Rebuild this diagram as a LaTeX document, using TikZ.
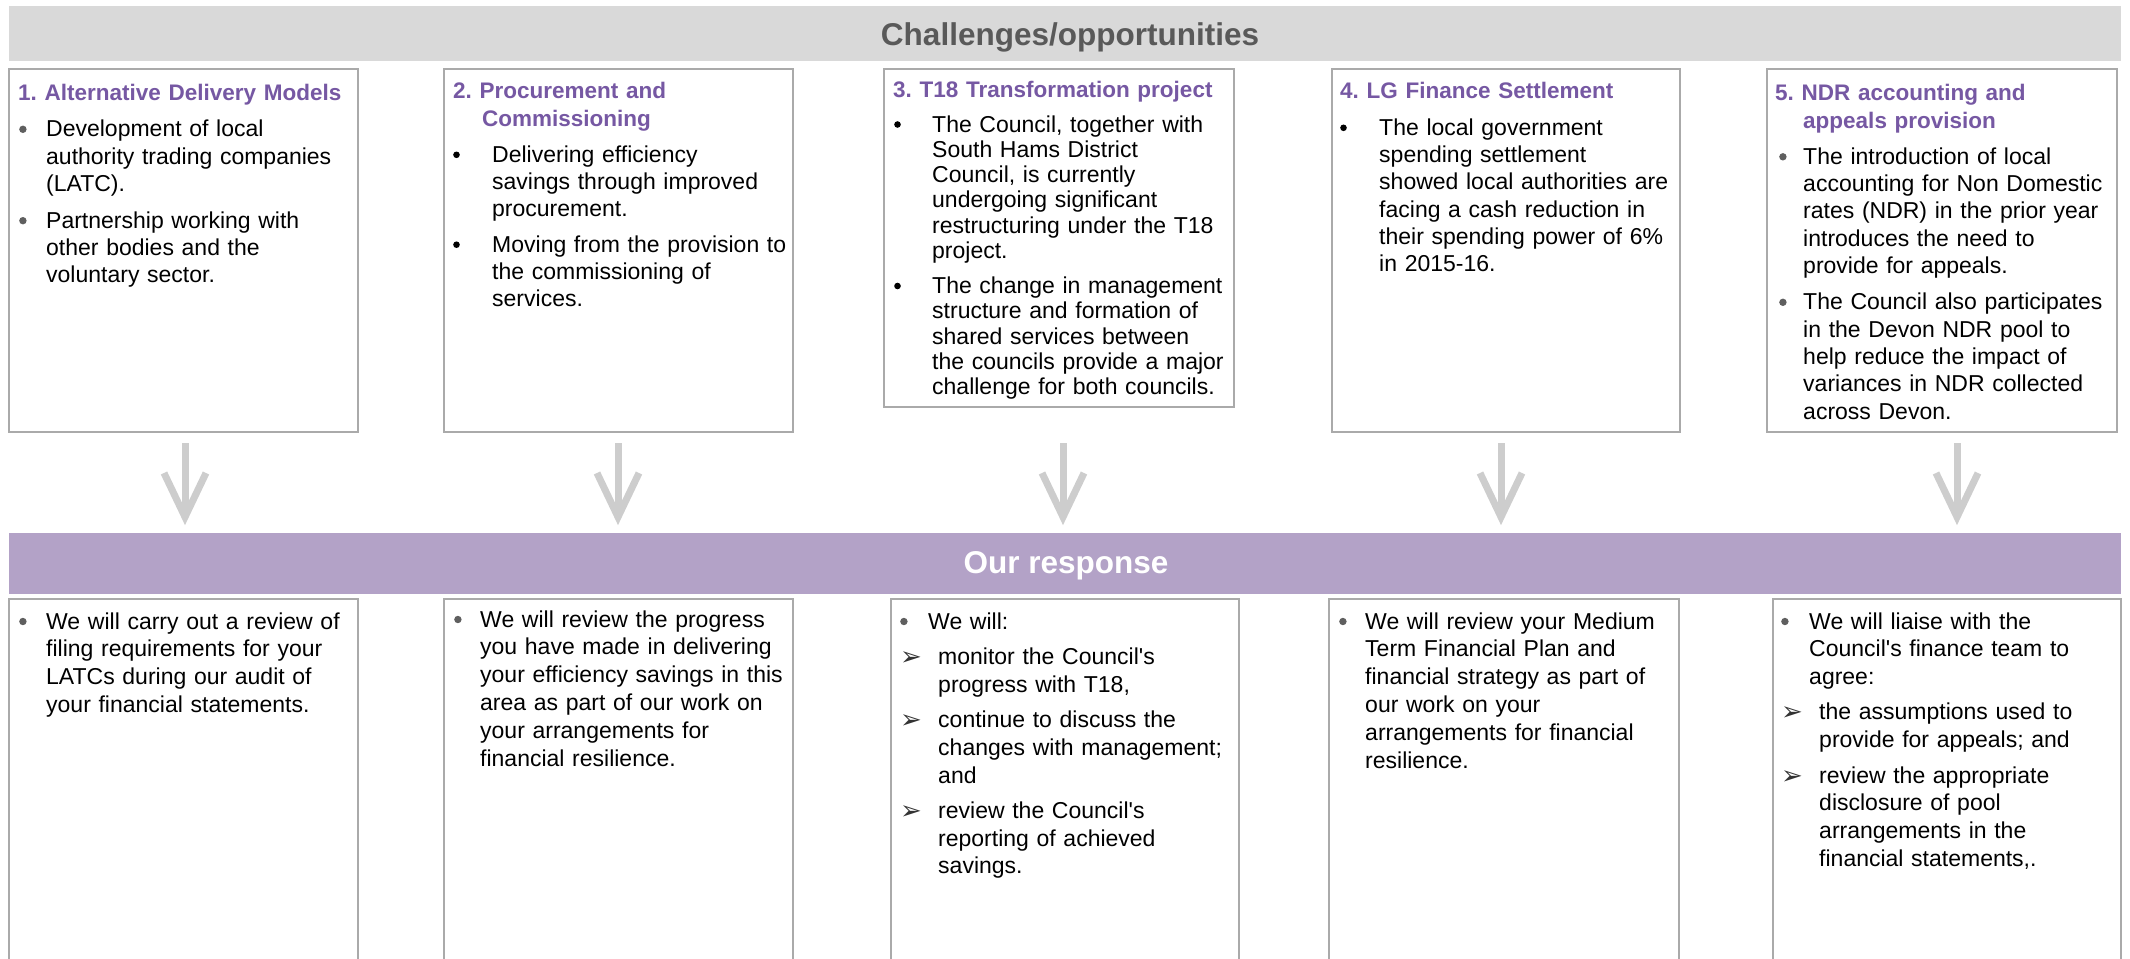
\documentclass[tikz,border=0pt]{standalone}
\usepackage{fontspec}
\setmainfont{Liberation Sans}
\newfontfamily\djv{DejaVu Sans}
\usetikzlibrary{calc}
\definecolor{bargray}{RGB}{217,217,217}
\definecolor{titlegray}{RGB}{89,89,89}
\definecolor{barpurple}{RGB}{179,162,199}
\definecolor{hpurple}{RGB}{118,88,163}
\definecolor{boxgray}{RGB}{170,170,170}
\definecolor{bulgray}{RGB}{95,95,95}
\definecolor{arrgray}{RGB}{205,205,205}
\frenchspacing
\newcommand\nl{\hfil\break}
\newcommand\hd[2][0pt]{{\hangindent=#1\hangafter=1\noindent\color{hpurple}\bfseries\fontsize{22.5}{28}\selectfont #2\par}}
\newcommand\bpt[4]{\hangindent=#1\hangafter=1\noindent\makebox[#1][l]{\hspace*{#2}#3}#4\par}
\newcommand\gb{\tikz[baseline=0pt]\fill[bulgray] (3.7pt,7.5pt) circle[radius=3.7pt];}
\newcommand\kb{\tikz[baseline=0pt]\fill[black] (3.3pt,7.5pt) circle[radius=3.3pt];}
\newcommand\ab{{\djv\fontsize{26}{26}\selectfont\color{black!80}\raisebox{-1pt}{➢}}}
\newcommand\q{\textquotesingle}
\tikzset{
 tbox/.style={draw=boxgray, line width=2pt, fill=white, inner sep=0pt, outer sep=0pt, anchor=north west},
 txt/.style={anchor=base west, inner sep=0pt, text width=420pt, align=left, font=\fontsize{23}{27.3}\selectfont},
 txtb/.style={txt, font=\fontsize{23}{27.8}\selectfont},
 bar/.style={inner sep=0pt, outer sep=0pt, anchor=north west, minimum width=2112pt, minimum height=55pt},
 bartitle/.style={anchor=base, inner sep=0pt, font=\bfseries\fontsize{31.5}{36}\selectfont},
 shaft/.style={draw=arrgray, line width=7pt},
 ahead/.style={draw=arrgray, line width=7pt, line join=miter}
}
\begin{document}
\begin{tikzpicture}[x=1pt,y=-1pt]
\useasboundingbox (0,0) rectangle (2130,958);
\clip (0,0) rectangle (2130,958);
% bars
\node[bar, fill=bargray] (topbar) at (9,6) {};
\node[bartitle, text=titlegray] (toptitle) at (1070,46) {Challenges/opportunities};
\node[bar, fill=barpurple, minimum height=61pt] (midbar) at (9,533) {};
\node[bartitle, text=white] (midtitle) at (1066,573) {Our response};
% top boxes
\node[tbox, minimum width=349pt, minimum height=362pt] (c1) at (9,69.5) {};
\node[tbox, minimum width=349pt, minimum height=362pt] (c2) at (444,69.5) {};
\node[tbox, minimum width=350pt, minimum height=337pt] (c3) at (884,69.5) {};
\node[tbox, minimum width=348pt, minimum height=362pt] (c4) at (1332,69.5) {};
\node[tbox, minimum width=350pt, minimum height=362pt] (c5) at (1767,69.5) {};
% top texts
\node[txt] (t1) at (18,100) {\setlength{\parskip}{9.5pt}%
\hd{1. Alternative Delivery Models}
\bpt{28pt}{1pt}{\gb}{Development of local\nl authority trading companies\nl (LATC).}
\bpt{28pt}{1pt}{\gb}{Partnership working with\nl other bodies and the\nl voluntary sector.}};
\node[txt] (t2) at (453,99) {\setlength{\parskip}{8pt}%
\hd[29pt]{2. Procurement and\nl Commissioning}
\bpt{39pt}{0pt}{\kb}{Delivering efficiency\nl savings through improved\nl procurement.}
\bpt{39pt}{0pt}{\kb}{Moving from the provision to\nl the commissioning of\nl services.}};
\node[txt, font=\fontsize{23}{25.3}\selectfont] (t3) at (893,97) {\setlength{\parskip}{9.7pt}%
\hd{3. T18 Transformation project}
\bpt{39pt}{1pt}{\kb}{The Council, together with\nl South Hams District\nl Council, is currently\nl undergoing significant\nl restructuring under the T18\nl project.}
\bpt{39pt}{1pt}{\kb}{The change in management\nl structure and formation of\nl shared services between\nl the councils provide a major\nl challenge for both councils.}};
\node[txt] (t4) at (1340,99) {\setlength{\parskip}{9pt}%
\hd{4. LG Finance Settlement}
\bpt{39pt}{0pt}{\kb}{The local government\nl spending settlement\nl showed local authorities are\nl facing a cash reduction in\nl their spending power of 6\%\nl in 2015-16.}};
\node[txt] (t5) at (1775,100) {\setlength{\parskip}{9pt}%
\hd[28pt]{5. NDR accounting and\nl appeals provision}
\bpt{28pt}{4pt}{\gb}{The introduction of local\nl accounting for Non Domestic\nl rates (NDR) in the prior year\nl introduces the need to\nl provide for appeals.}
\bpt{28pt}{4pt}{\gb}{The Council also participates\nl in the Devon NDR pool to\nl help reduce the impact of\nl variances in NDR collected\nl across Devon.}};
% arrows
\foreach \n/\x in {1/185,2/618,3/1063,4/1501,5/1957}{
  \coordinate (s\n) at (\x,443);
  \coordinate (e\n) at (\x,512);
  \coordinate (p\n) at (\x,517);
  \draw[shaft] (s\n) -- (e\n);
  \draw[ahead] ($(p\n)+(-21,-44)$) -- (p\n) -- ($(p\n)+(21,-44)$);
}
% bottom boxes
\node[tbox, minimum width=349pt, minimum height=420pt] (r1) at (9,599) {};
\node[tbox, minimum width=349pt, minimum height=420pt] (r2) at (444,599) {};
\node[tbox, minimum width=348pt, minimum height=420pt] (r3) at (891,599) {};
\node[tbox, minimum width=350pt, minimum height=420pt] (r4) at (1329,599) {};
\node[tbox, minimum width=348pt, minimum height=420pt] (r5) at (1773,599) {};
% bottom texts
\node[txtb] (b1) at (19,629) {\setlength{\parskip}{7.5pt}%
\bpt{27pt}{0pt}{\gb}{We will carry out a review of\nl filing requirements for your\nl LATCs during our audit of\nl your financial statements.}};
\node[txtb] (b2) at (454,627) {\setlength{\parskip}{7.5pt}%
\bpt{26pt}{0pt}{\gb}{We will review the progress\nl you have made in delivering\nl your efficiency savings in this\nl area as part of our work on\nl your arrangements for\nl financial resilience.}};
\node[txtb] (b3) at (900,629) {\setlength{\parskip}{7.5pt}%
\bpt{28pt}{0pt}{\gb}{We will:}
\bpt{38pt}{0pt}{\ab}{monitor the Council\q s\nl progress with T18,}
\bpt{38pt}{0pt}{\ab}{continue to discuss the\nl changes with management;\nl and}
\bpt{38pt}{0pt}{\ab}{review the Council\q s\nl reporting of achieved\nl savings.}};
\node[txtb] (b4) at (1339,629) {\setlength{\parskip}{7.5pt}%
\bpt{26pt}{0pt}{\gb}{We will review your Medium\nl Term Financial Plan and\nl financial strategy as part of\nl our work on your\nl arrangements for financial\nl resilience.}};
\node[txtb] (b5) at (1781,629) {\setlength{\parskip}{7.5pt}%
\bpt{28pt}{0pt}{\gb}{We will liaise with the\nl Council\q s finance team to\nl agree:}
\bpt{38pt}{0pt}{\ab}{the assumptions used to\nl provide for appeals; and}
\bpt{38pt}{0pt}{\ab}{review the appropriate\nl disclosure of pool\nl arrangements in the\nl financial statements,.}};
\end{tikzpicture}
\end{document}
